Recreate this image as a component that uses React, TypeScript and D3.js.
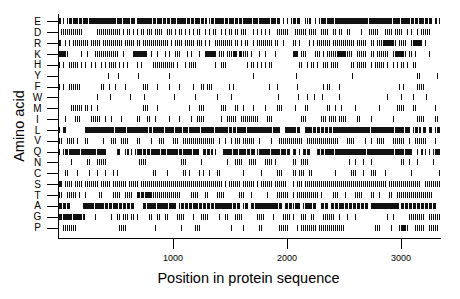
import React from "react";
import * as d3 from "d3";

const aminoAcids = ["E","D","R","K","H","Y","F","W","M","I","L","V","Q","N","C","S","T","A","G","P"];
const xTicks = [1000, 2000, 3000];
const seqLength = 3350;
const binsPerSeg = 39;
const totalBins = 191;

// occupancy strings: each char = one bin of the sequence ('.' none, '|' one residue, '#' two adjacent residues)
const E_marks = ["#.|.|#|##|#|##|#############|##|###|##", "#######|#|##|#|#|##|####|#|#|##|#|#.|#|", "####|#|##|#|#|####|##|#####|##|#|.|.|.|", "#|#|..||#..|.|##|###|################|##", "##########|###|####|#|#|##|#|#|.#.|"];
const D_marks = [".|||||||||||.......||||||||||||.|.||.|", "|.||.|||.||||..|||.|.||.|.|.|.||..|.|.|", "|..|.|.||.||.|||...|.|.|.|.|...||||||.", ".||||||.||||..||||..||.||..||.....|...|", "||||...||||.||||..|.|..|.|||||.."];
const R_marks = ["#..|.|.||||||||.|||||.||||||||||.|||||", "||.|||||||||||||.|.||||.|||||.|||.|.|.", "|||||||||.||.|.||..|.||||||||.||..|..", "||.|....|.|.|||||||.|||||||||||.|||||.", "||.|||#####||.||||..|####|.|"];
const K_marks = ["###||......|..|...||||||||||||..|....##", "#####..|..|...|.|..|||...|.|...|..#####", "|.|||.|||##.#||||.|...|..|....|.......", "##|.|||....|||.|.|||||####||||..|||||..", "||.||||||..|####||.||.|......|...."];
const H_marks = ["|.|..|||||.|.|..|.|..|.|.||||.|.|.|....", "|.|.....|||||||||||.|...|.||||.........", "|..|||..........|.||.|.|.|.||..........", "...||..|.||.|..|||.||||......||.|||||..", "|.|||||.|..|.|.||.|..||...."];
const Y_positions = [438, 526, 693, 965, 1710, 2087, 2578, 3148, 3162, 3315];
const F_marks = ["|.|..||||||..........||..|..|....|....", "...|||....|.....|....|......|...||.|||.", ".......|.|.................|...|......", "..|............|.||....|...............", "..............|.|......||||.........."];
const W_positions = [342, 456, 623, 754, 1009, 1193, 1394, 1517, 1929, 2096, 2175, 2245, 2315, 2456, 2877, 2885, 3000, 3113, 3227];
const M_marks = ["......||||||.||.|..|..................", "...|||....|...............|....|||.....", "...|||....||..|....|.....|.....|||.....", ".|....||.........||..|..|......|.......", "....|........||||....||.........|.."];
const I_marks = ["...|....|||.....|||||..|..|....|......", "||...||..|......|....|.....|..||||.....", "...|..|||||..|||||||||....|||..........", "....|||.......|||.||||.||||.....||.....", "|..........|...........||||.....||..."];
const L_marks = ["|.#|.........##############|#####|#####", "#####|#|#####|####|###|##|#####|######|", "######|#|#|####|############|###|..####", "#|#|..###|#|#|#|#|#|##################|", "###########|####|##|.|#|#.#|.#|.|#|"];
const V_marks = ["||..||||.|...||.......|...|||..||||....", "||.....|...|||....|||..|||||||||||||||||", "..|..|..|.|||.||||||..|.....|...|||||||", "|||||..||||||||||||||||....||||.....|..", "|..||||....||||||..|..||||||....|.."];
const Q_marks = ["|.|#|#####|#######|####|.....#|..|#.|.|", "##|#|#|####|##|#####|#|####|###..#|#|#", "|...####|##|###|#|##.|#####|####|##|#|", "#|.|.#|#|...#|#|####|###############|##", "###########|####|###|..|.#.|.|.|##|"];
const N_marks = ["......|.......||...|||||..............", ".||||.................|||.......|.....", "......|...||||...||||....||||.|.......", "||..||||....................|..|...|...", "|..............||..|...|.......|..."];
const C_marks = ["...||....|.....|...|...|...|.|.........", "........||.....|.......||.|....|.|..|..", ".||...........|........|.......|||.....", "||.|||..||...........|.......|||...|...", "|||....|............|.............|."];
const S_marks = ["#|.||||.||||.|||||||.|||||.|||||||.||||", "|.|||||||||||||||||||||||||||||||||||||", "||||.|.||||||.||||||.|.||||||.||||||", "|.|||.|||||||||||||||||||||||||||||||||", "||||||||.||||||||||||||||..||||||||"];
const T_marks = ["||..|||||.|..|......||.....||||..||||.", "#|#|###|||||||||||||||.....||||...||...", ".||||.......|||...|.......|....||||||..", "|.|||||||||||.|.....|||...|....||||....", "||..|....||..||||||||||||||||||..."];
const A_marks = ["#|#|#|......#####|####|#|#|##|#|#|#|#|", "...#|####|#####|###|.|#|#|#|##|#|#|#|#|", "########|#|#|.|#|.#|###########|#|.#|#|", "|##|.|###|#|..#|#|.#|#|##|#|#|#|#|#|#|", "##############.#|#|#|#|#|#|#|#|#|"];
const G_marks = ["#|####|####|#.....|.......|..||.|||.||", "|.....||..||..||....||||....|...||||....", "..|..||...||||.......||||....|....||||..", "|...|||..||....||||||..|...|...|.......", "........|..|.......||||||||..||||||."];
const P_marks = ["..|||||||.....................||||....", ".........|............|......|||.......", "........|.....|.......||........|||||..", "..|.||||||||.|||||||||||||..............", "..|||.....|...|##||...|||||..|||||"];

const rowSources: Record<string, string[] | number[]> = {
  E: E_marks, D: D_marks, R: R_marks, K: K_marks, H: H_marks, Y: Y_positions,
  F: F_marks, W: W_positions, M: M_marks, I: I_marks, L: L_marks, V: V_marks,
  Q: Q_marks, N: N_marks, C: C_marks, S: S_marks, T: T_marks, A: A_marks,
  G: G_marks, P: P_marks,
};

function positionsFor(src: string[] | number[]): number[] {
  if (typeof src[0] === "number") return src as number[];
  const bin = seqLength / totalBins;
  const out: number[] = [];
  (src as string[]).forEach((seg, k) => {
    const s = seg.slice(0, binsPerSeg);
    for (let j = 0; j < s.length; j++) {
      const b = k * binsPerSeg + j;
      if (b >= totalBins) break;
      const c = s[j];
      if (c === "|") out.push((b + 0.25) * bin);
      else if (c === "#") { out.push((b + 0.25) * bin); out.push((b + 0.75) * bin); }
    }
  });
  return out;
}

export default function App() {
  const width = 460, height = 299;
  const x = d3.scaleLinear().domain([0, seqLength]).range([59, 441]);
  const y = d3.scalePoint<string>().domain(aminoAcids).range([21.5, 227.5]);
  const axisY = 238.5;
  const axisX = 58.5;
  const font = "'Liberation Sans', Arial, Helvetica, sans-serif";

  return (
    <svg width={width} height={height} style={{ position: "absolute", left: 0, top: 0, background: "#fff" }}>
      <rect x={0} y={0} width={width} height={height} fill="#fff" />
      <g shapeRendering="crispEdges">
        {aminoAcids.map((aa) => {
          const ys = y(aa)!;
          return (
            <g key={aa}>
              {positionsFor(rowSources[aa]).map((p, i) => (
                <rect key={i} x={Math.floor(x(p))} y={Math.round(ys - 3)} width={1} height={6} fill="#111" />
              ))}
            </g>
          );
        })}
        <line x1={axisX} x2={axisX} y1={14} y2={axisY + 0.5} stroke="#000" strokeWidth={1} />
        <line x1={axisX} x2={441} y1={axisY} y2={axisY} stroke="#000" strokeWidth={1} />
        {aminoAcids.map((aa) => (
          <line key={aa} x1={47} x2={axisX} y1={Math.round(y(aa)!) + 0.5} y2={Math.round(y(aa)!) + 0.5} stroke="#000" strokeWidth={1} />
        ))}
        {xTicks.map((t) => (
          <line key={t} x1={Math.round(x(t)) + 0.5} x2={Math.round(x(t)) + 0.5} y1={axisY} y2={axisY + 10} stroke="#000" strokeWidth={1} />
        ))}
      </g>
      {aminoAcids.map((aa) => (
        <text key={aa} x={37.5} y={y(aa)! + 3.6} textAnchor="middle" fontFamily={font} fontSize={10} fill="#000">{aa}</text>
      ))}
      {xTicks.map((t) => (
        <text key={t} x={x(t)} y={261} textAnchor="middle" fontFamily={font} fontSize={9} fill="#000">{t}</text>
      ))}
      <text x={248.5} y={283} textAnchor="middle" fontFamily={font} fontSize={14.5} fill="#000">Position in protein sequence</text>
      <text transform={`translate(23.5,126) rotate(-90)`} textAnchor="middle" fontFamily={font} fontSize={14.5} fill="#000">Amino acid</text>
    </svg>
  );
}
